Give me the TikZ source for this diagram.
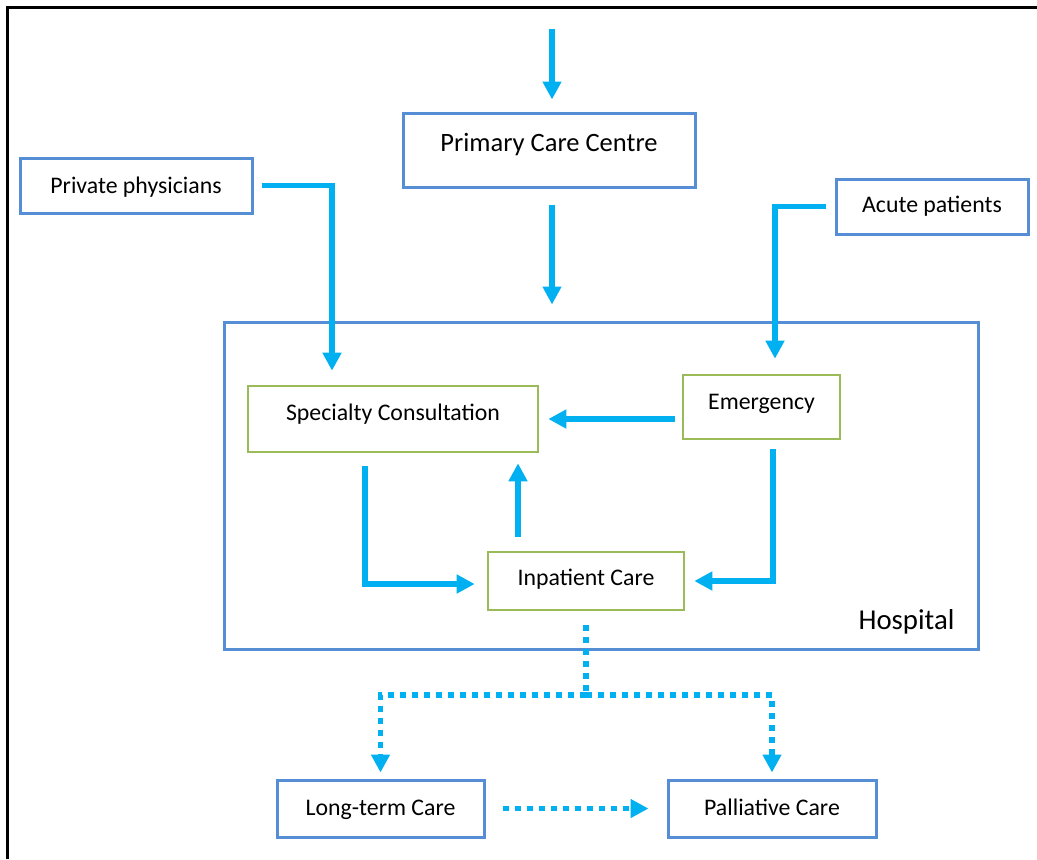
\documentclass[tikz,border=0pt]{standalone}
\usepackage{fontspec}
\setmainfont{Carlito}
\usepackage{tikz}
\usetikzlibrary{arrows.meta,calc}
\definecolor{boxblue}{RGB}{86,142,213}
\definecolor{boxgreen}{RGB}{155,187,89}
\definecolor{flowcyan}{RGB}{0,176,240}

\begin{document}
\begin{tikzpicture}[x=0.5pt, y=-0.5pt, >={Triangle[width=9pt,length=9pt]},
    bluebox/.style={draw=boxblue, line width=1.5pt, inner sep=0pt, text height=9pt, text depth=1.5pt, font=\fontsize{11.9}{14}\selectfont},
    greenbox/.style={draw=boxgreen, line width=1.3pt, inner sep=0pt, text height=9pt, text depth=1.5pt, font=\fontsize{11.9}{14}\selectfont},
    flow/.style={->, draw=flowcyan, line width=2.9pt},
    dotflow/.style={flow, dash pattern=on 3pt off 3pt}]

\useasboundingbox (0,0) rectangle (1037,859);
\draw[line width=1.5pt] (7,859) -- (7,7) -- (1037,7);

\draw
    node at(549,150)[bluebox,font=\fontsize{13.25}{16}\selectfont,minimum width=146pt,minimum height=37pt,text depth=7.5pt,name=prim]{Primary Care Centre}

    node at(136,185.5)[bluebox,minimum width=116pt,minimum height=27.5pt,name=priv]{Private physicians}
    node at(932,206.5)[bluebox,minimum width=96pt,minimum height=27.5pt,text depth=3.5pt,name=acute]{Acute patients}

    node at(601,485.5)[draw=boxblue,line width=1.5pt,minimum width=377pt,minimum height=163.5pt,name=hosp]{}
    node at($(hosp.south east)+(-18,-21)$)[anchor=base east,font=\fontsize{14.4}{17}\selectfont,name=hosplabel]{Hospital}

    node at(393,419)[greenbox,minimum width=145pt,minimum height=33pt,text depth=7.5pt,name=spec]{Specialty Consultation}
    node at(761.5,407)[greenbox,minimum width=78.5pt,minimum height=32pt,text depth=6.5pt,name=emerg]{Emergency}
    node at(586,581)[greenbox,minimum width=98pt,minimum height=29pt,text depth=4.5pt,name=inp]{Inpatient Care}

    node at(380.5,808.5)[bluebox,minimum width=103.5pt,minimum height=28.5pt,text depth=2.5pt,name=ltc]{Long-term Care}
    node at(772,808.5)[bluebox,minimum width=104pt,minimum height=28.5pt,text depth=2.5pt,name=pal]{Palliative Care}
;

    \coordinate (entry) at (552,29);
    \draw[flow, shorten >=6pt](entry) -- (entry |- prim.north);
    \draw[flow, shorten <=8pt, shorten >=8pt]([xshift=1.5pt]prim.south) -- ([xshift=1.5pt]prim.south |- hosp.north);

    \draw[flow, shorten <=4pt, shorten >=7pt](priv.east) -| ([xshift=-30.5pt]spec.north);
    \draw[flow, shorten <=4.5pt, shorten >=7.5pt](acute.west) -| ([xshift=6.75pt]emerg.north);

    \draw[flow, shorten <=3.5pt, shorten >=4.5pt](spec.east -| emerg.west) -- (spec.east);
    \draw[flow, shorten <=6.5pt, shorten >=6pt]([xshift=-14pt]spec.south) |- ([yshift=-1.5pt]inp.west);
    \draw[flow, shorten <=7pt, shorten >=5pt]([xshift=-34pt]inp.north) -- ([xshift=-34pt]inp.north |- spec.south);
    \draw[flow, shorten <=4.5pt, shorten >=4.5pt]([xshift=5.75pt]emerg.south) |- (inp.east);

    \coordinate (split) at ($(inp.south)+(0,84)$);
    \draw[dotflow, -, shorten <=7pt](inp.south) -- (split);
    \draw[dotflow, shorten >=3pt](split) -| (ltc.north);
    \draw[dotflow, shorten >=3pt](split) -| (pal.north);
    \draw[dotflow, shorten <=8.5pt, shorten >=9pt](ltc.east) -- (pal.west);

\end{tikzpicture}
\end{document}
